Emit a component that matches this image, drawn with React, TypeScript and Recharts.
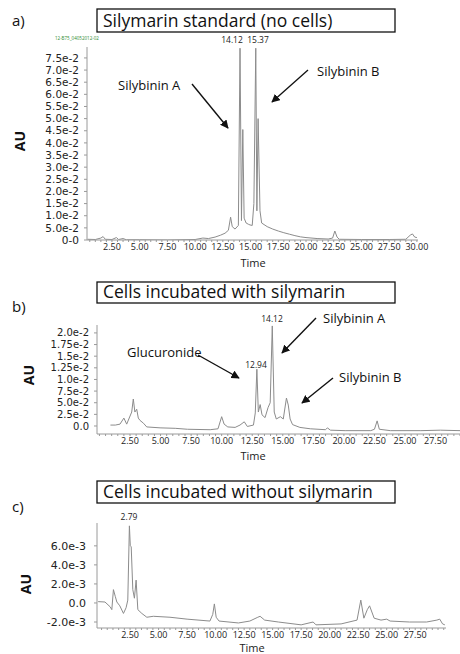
import { LineChart, Line, XAxis, YAxis } from "recharts";

const FONT = "'Open Sans', 'Noto Sans', sans-serif";
const TICK_FONT = "'DejaVu Sans', 'Open Sans', sans-serif";
const TRACE = "#8c8c8c";
const AXIS = "#9a9a9a";

// a) silymarin standard
const A_TIME = [0.3, 1.0, 1.5, 1.7, 1.9, 2.5, 2.9, 3.1, 3.5, 3.8, 5.0, 7.5, 10.0, 10.7, 11.2, 11.8, 12.3, 12.7, 13.0, 13.2, 13.35, 13.6, 13.9, 14.05, 14.18, 14.3, 14.42, 14.6, 14.8, 14.95, 15.15, 15.3, 15.47, 15.57, 15.68, 15.85, 16.0, 16.5, 17.0, 17.5, 18.0, 18.5, 19.0, 19.5, 20.0, 21.0, 22.0, 22.4, 22.6, 22.8, 23.0, 25.0, 27.5, 29.0, 29.4, 29.6, 29.8, 30.0];
const A_AU = [0.0003, 0.0002, 0.0008, 0.0014, 0.0003, 0.0002, 0.001, 0.0002, 0.0006, 0.0001, 0.0001, 0.0, 0.0002, 0.0008, 0.0006, 0.0012, 0.002, 0.0028, 0.004, 0.0094, 0.0055, 0.0045, 0.006, 0.079, 0.008, 0.0455, 0.009, 0.007, 0.0065, 0.0062, 0.006, 0.015, 0.079, 0.012, 0.05, 0.012, 0.007, 0.0055, 0.0045, 0.0037, 0.003, 0.0024, 0.0018, 0.0013, 0.001, 0.0006, 0.0004, 0.0008, 0.0037, 0.0012, 0.0003, 0.0002, 0.0002, 0.0003, 0.002, 0.0025, 0.0012, 0.001];
const A_YTICKS = [0, 0.005, 0.01, 0.015, 0.02, 0.025, 0.03, 0.035, 0.04, 0.045, 0.05, 0.055, 0.06, 0.065, 0.07, 0.075];
const A_YLABELS = ["0-0", "5.0e-2", "1.0e-2", "1.5e-2", "2.0e-2", "2.5e-2", "3.0e-2", "3.5e-2", "4.0e-2", "4.5e-2", "5.0e-2", "5.5e-2", "6.0e-2", "6.5e-2", "7.0e-2", "7.5e-2"];
const A_XTICKS = [2.5, 5, 7.5, 10, 12.5, 15, 17.5, 20, 22.5, 25, 27.5, 30];
const A_XLABELS = ["2.50", "5.00", "7.50", "10.00", "12.50", "15.00", "17.50", "20.00", "22.50", "25.00", "27.50", "30.00"];

// b) cells incubated with silymarin
const B_TIME = [0.9, 1.3, 1.68, 2.0, 2.23, 2.64, 2.77, 2.9, 3.05, 3.18, 3.32, 3.6, 3.87, 4.96, 6.2, 7.2, 9.06, 9.7, 10.0, 10.2, 10.5, 11.1, 11.5, 11.85, 12.1, 12.6, 12.75, 12.88, 13.0, 13.15, 13.3, 13.55, 13.8, 13.97, 14.14, 14.3, 14.47, 14.8, 15.04, 15.3, 15.45, 15.6, 15.8, 16.4, 17.25, 18.5, 18.65, 18.9, 20.1, 22.2, 22.5, 22.72, 22.9, 23.8, 26.3, 27.9, 29.5];
const B_AU = [0.0002, 0.0002, 0.0004, 0.0017, 0.0004, 0.003, 0.0058, 0.003, 0.0036, 0.0017, 0.0012, 0.0006, -0.0002, -0.0004, -0.0005, -0.0007, -0.0008, -0.0006, 0.002, 0.0004, -0.0002, -0.0003, 0.0002, 0.0009, -0.0001, 0.0002, 0.0028, 0.0122, 0.003, 0.0046, 0.0024, 0.0018, 0.004, 0.005, 0.0215, 0.003, 0.0015, 0.002, 0.0015, 0.006, 0.0045, 0.0015, 0.0003, -0.0003, -0.0006, -0.0008, -0.0004, -0.0009, -0.001, -0.001, -0.0007, 0.0011, -0.0007, -0.001, -0.001, -0.0009, -0.001];
const B_YTICKS = [0, 0.0025, 0.005, 0.0075, 0.01, 0.0125, 0.015, 0.0175, 0.02];
const B_YLABELS = ["0.0", "2.5e-2", "5.0e-2", "7.5e-2", "1.0e-2", "1.25e-2", "1.5e-2", "1.75e-2", "2.0e-2"];
const B_XTICKS = [2.5, 5, 7.5, 10, 12.5, 15, 17.5, 20, 22.5, 25, 27.5];
const B_XLABELS = ["2.50", "5.00", "7.50", "10.00", "12.50", "15.00", "17.50", "20.00", "22.50", "25.00", "27.50"];

// c) cells incubated without silymarin
const C_TIME = [-0.3, 0.3, 0.75, 0.9, 1.04, 1.2, 1.34, 1.6, 1.92, 2.15, 2.3, 2.44, 2.52, 2.6, 2.74, 2.88, 3.03, 3.18, 3.53, 3.97, 4.54, 6.0, 7.5, 9.5, 9.75, 9.89, 10.05, 10.3, 12.0, 13.0, 13.7, 13.9, 14.3, 15.5, 17.5, 18.55, 18.8, 21.0, 22.4, 22.73, 23.0, 23.3, 23.5, 23.9, 24.5, 25.0, 25.3, 27.0, 28.5, 29.4, 29.65, 29.9, 30.1];
const C_AU = [0.00014, 0.0001, -0.0004, -0.0007, 0.0014, 0.0007, 0.0001, -0.0003, -0.0011, -0.0005, 0.0003, 0.0081, 0.006, 0.0059, 0.0014, 0.0005, 0.0024, -0.0007, -0.0011, -0.0015, -0.0014, -0.0015, -0.0017, -0.0019, -0.0012, -0.0001, -0.0015, -0.0019, -0.0021, -0.0019, -0.0015, -0.0014, -0.0018, -0.002, -0.0023, -0.002, -0.0023, -0.0022, -0.0018, 0.0003, -0.0016, -0.0007, -0.0003, -0.0016, -0.0018, -0.0017, -0.0019, -0.002, -0.002, -0.0018, -0.0017, -0.0022, -0.0023];
const C_YTICKS = [-0.002, 0, 0.002, 0.004, 0.006];
const C_YLABELS = ["-2.0e-3", "0.0", "2.0e-3", "4.0e-3", "6.0e-3"];
const C_XTICKS = B_XTICKS;
const C_XLABELS = B_XLABELS;

type PanelProps = {
  top: number;
  height: number;
  marginTop: number;
  marginRight: number;
  yWidth: number;
  xHeight: number;
  xDomain: [number, number];
  yDomain: [number, number];
  time: number[];
  au: number[];
  xTicks: number[];
  xLabels: string[];
  yTicks: number[];
  yLabels: string[];
  yGap: number;
  yFont: number;
};

function Panel(p: PanelProps) {
  const data = p.time.map((t, i) => ({ t, v: p.au[i] }));
  // minor ticks every 0.5 min, labels only on the major ones
  const minor: number[] = [];
  for (let k = Math.ceil(p.xDomain[0] * 2); k / 2 <= p.xDomain[1]; k++) minor.push(k / 2);
  const xFmt = (v: number) => {
    const i = p.xTicks.findIndex((m) => Math.abs(m - v) < 1e-6);
    return i >= 0 ? p.xLabels[i] : "";
  };
  const yFmt = (v: number) => {
    const i = p.yTicks.findIndex((m) => Math.abs(m - v) < 1e-9);
    return i >= 0 ? p.yLabels[i] : "";
  };
  return (
    <div style={{ position: "absolute", left: 0, top: p.top }}>
      <LineChart
        width={460}
        height={p.height}
        data={data}
        margin={{ top: p.marginTop, right: p.marginRight, bottom: 0, left: 0 }}
        style={{ fontFamily: FONT }}
      >
        <XAxis
          dataKey="t"
          type="number"
          domain={p.xDomain}
          allowDataOverflow
          ticks={minor}
          interval={0}
          tickFormatter={xFmt}
          height={p.xHeight}
          tickSize={2}
          tickMargin={2}
          axisLine={{ stroke: AXIS }}
          tickLine={{ stroke: AXIS }}
          tick={{ fontSize: 9, fill: "#222" }}
        />
        <YAxis
          type="number"
          domain={p.yDomain}
          allowDataOverflow
          ticks={p.yTicks}
          interval={0}
          tickFormatter={yFmt}
          width={p.yWidth}
          tickSize={3}
          tickMargin={p.yGap}
          axisLine={{ stroke: AXIS }}
          tickLine={{ stroke: AXIS }}
          tick={{ fontSize: p.yFont, fill: "#222", fontFamily: TICK_FONT }}
        />
        <Line
          type="linear"
          dataKey="v"
          stroke={TRACE}
          strokeWidth={1}
          dot={false}
          isAnimationActive={false}
        />
      </LineChart>
    </div>
  );
}

function Arrow({ x1, y1, x2, y2 }: { x1: number; y1: number; x2: number; y2: number }) {
  return <line x1={x1} y1={y1} x2={x2} y2={y2} stroke="#111" strokeWidth={1.4} markerEnd="url(#ah)" />;
}

export default function App() {
  const title = { fontSize: 17.5, fill: "#111" };
  const note = { fontSize: 13, fill: "#111" };
  const peak = { fontSize: 8.5, fill: "#222", textAnchor: "middle" as const };
  const au = { fontSize: 14, fontWeight: 700, fill: "#111", textAnchor: "middle" as const };
  const time = { fontSize: 11, fill: "#222", textAnchor: "middle" as const };
  return (
    <div style={{ position: "absolute", left: 0, top: 0, width: 460, height: 654, background: "#fff", fontFamily: FONT }}>
      <Panel
        top={0} height={272} marginTop={47} marginRight={42} yWidth={87} xHeight={32}
        xDomain={[0.25, 30.1]} yDomain={[0, 0.0795]}
        time={A_TIME} au={A_AU} xTicks={A_XTICKS} xLabels={A_XLABELS}
        yTicks={A_YTICKS} yLabels={A_YLABELS} yGap={5} yFont={10.5}
      />
      <Panel
        top={300} height={164} marginTop={25} marginRight={0} yWidth={97} xHeight={30}
        xDomain={[-0.2, 29.5]} yDomain={[-0.00172, 0.0217]}
        time={B_TIME} au={B_AU} xTicks={B_XTICKS} xLabels={B_XLABELS}
        yTicks={B_YTICKS} yLabels={B_YLABELS} yGap={5} yFont={10}
      />
      <Panel
        top={505} height={149} marginTop={18} marginRight={14} yWidth={97} xHeight={26}
        xDomain={[-0.4, 30.2]} yDomain={[-0.00263, 0.0084]}
        time={C_TIME} au={C_AU} xTicks={C_XTICKS} xLabels={C_XLABELS}
        yTicks={C_YTICKS} yLabels={C_YLABELS} yGap={8} yFont={11}
      />
      <svg width={460} height={654} style={{ position: "absolute", left: 0, top: 0, pointerEvents: "none", fontFamily: FONT }}>
        <defs>
          <marker id="ah" viewBox="0 0 10 10" refX="9" refY="5" markerWidth="6" markerHeight="6" orient="auto">
            <path d="M0,0 L10,5 L0,10 z" fill="#111" />
          </marker>
        </defs>

        {/* a) */}
        <text x={12} y={26} fontSize={15} fill="#111">a)</text>
        <rect x={97} y={9} width={298} height={23} fill="none" stroke="#111" strokeWidth={1.3} />
        <text x={103} y={27} {...title}>Silymarin standard (no cells)</text>
        <text x={55} y={40} fontSize={4.5} fill="#2e8b2e">12-B75_04052012-02</text>
        <text x={232} y={43} {...peak}>14.12</text>
        <text x={258} y={43} {...peak}>15.37</text>
        <text x={118} y={90} {...note}>Silybinin A</text>
        <text x={317} y={76} {...note}>Silybinin B</text>
        <Arrow x1={192} y1={84} x2={228} y2={128} />
        <Arrow x1={308} y1={70} x2={272} y2={102} />
        <text transform="translate(25,141) rotate(-90)" {...au}>AU</text>
        <text x={253} y={267} {...time}>Time</text>

        {/* b) */}
        <text x={12} y={312} fontSize={15} fill="#111">b)</text>
        <rect x={97} y={282} width={298} height={21} fill="none" stroke="#111" strokeWidth={1.3} />
        <text x={103} y={298} {...title}>Cells incubated with silymarin</text>
        <text x={272} y={322} {...peak}>14.12</text>
        <text x={256} y={368} {...peak}>12.94</text>
        <text x={323} y={323} {...note}>Silybinin A</text>
        <text x={127} y={357} {...note}>Glucuronide</text>
        <text x={339} y={382} {...note}>Silybinin B</text>
        <Arrow x1={316} y1={318} x2={282} y2={353} />
        <Arrow x1={198} y1={355} x2={239} y2={378} />
        <Arrow x1={333} y1={378} x2={302} y2={403} />
        <text transform="translate(34,375) rotate(-90)" {...au}>AU</text>
        <text x={253} y={460} {...time}>Time</text>

        {/* c) */}
        <text x={12} y={512} fontSize={15} fill="#111">c)</text>
        <rect x={97} y={481} width={298} height={22} fill="none" stroke="#111" strokeWidth={1.3} />
        <text x={103} y={498} {...title}>Cells incubated without silymarin</text>
        <text x={129} y={520} {...peak}>2.79</text>
        <text transform="translate(31,584) rotate(-90)" {...au}>AU</text>
        <text x={252} y={652} {...time}>Time</text>
      </svg>
    </div>
  );
}
